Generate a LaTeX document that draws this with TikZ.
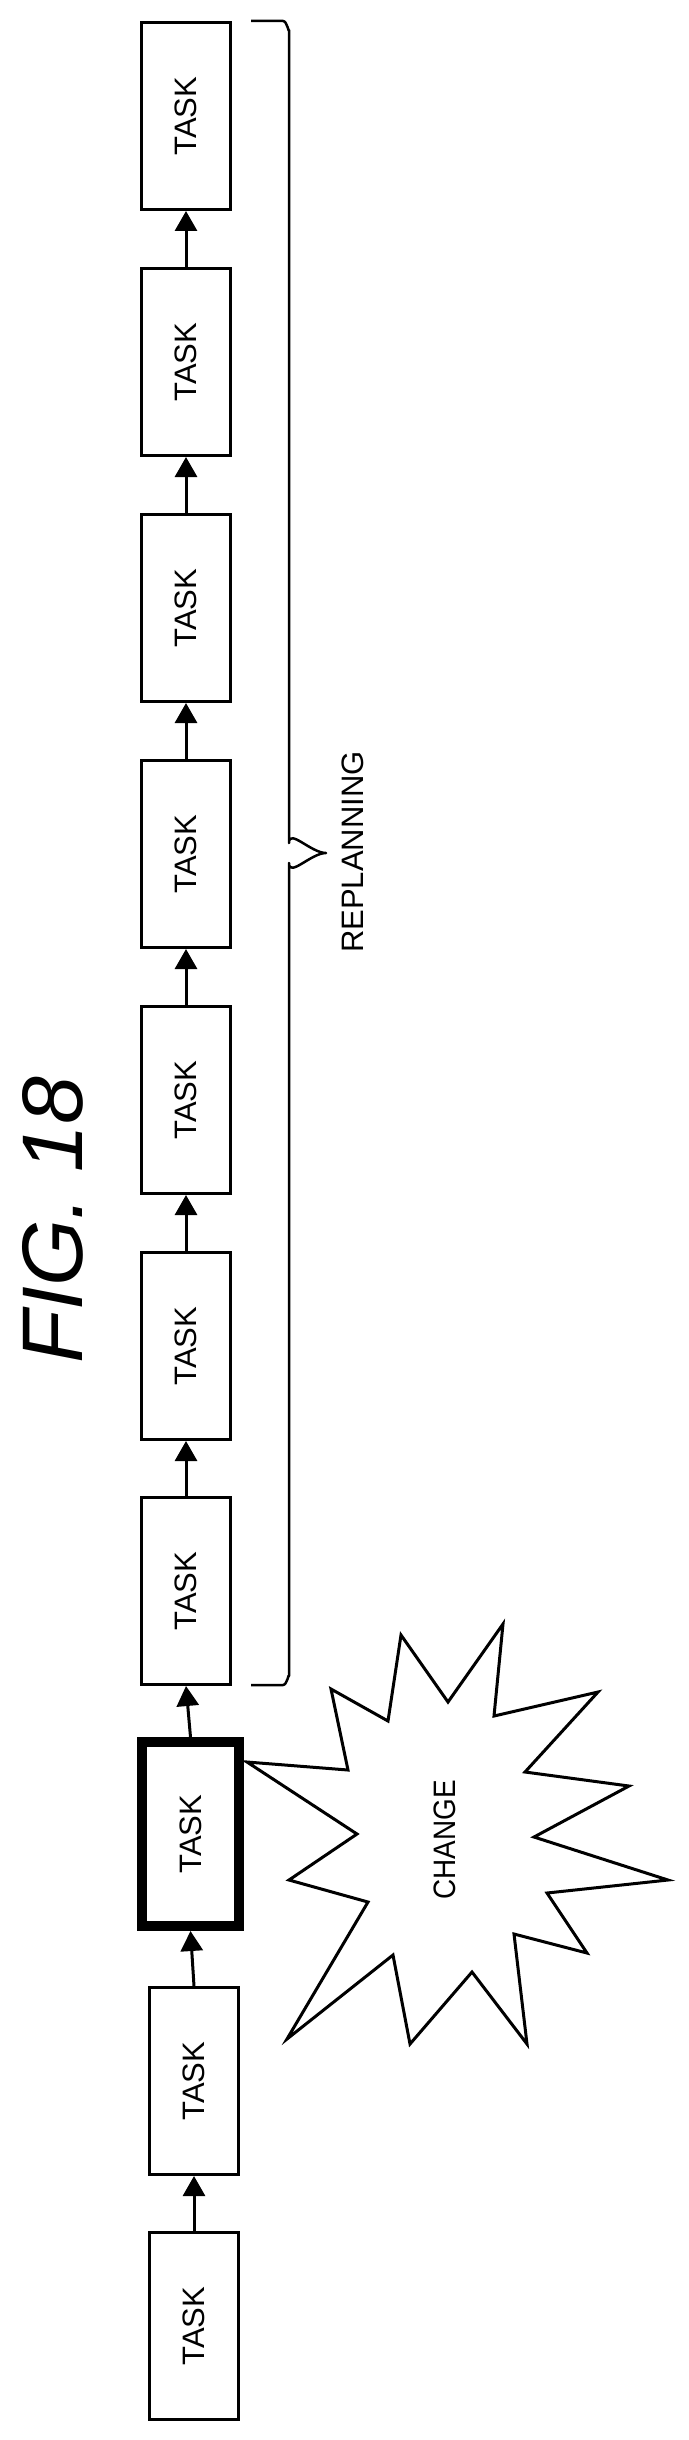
\documentclass[tikz,border=0pt]{standalone}
\usepackage{fontspec}
\setmainfont{Liberation Sans}
\usetikzlibrary{arrows.meta}
\begin{document}
\begin{tikzpicture}[x=1pt,y=-1pt,
  taskbox/.style={draw=black,line width=3pt,minimum width=89pt,minimum height=187pt,inner sep=0pt,font=\fontsize{31}{31}\selectfont},
  thickbox/.style={taskbox,line width=10pt,minimum width=97pt,minimum height=184pt},
  flow/.style={line width=3pt,-{Triangle[width=22pt,length=20pt]}}]
\useasboundingbox (0,0) rectangle (688,2440);
\foreach \i/\y/\x in {1/116/186,2/362/186,3/608/186,4/854/186,5/1100/186,6/1346/186,7/1591/186} {
  \node[taskbox] (t\i) at (\x,\y) {\rotatebox{90}{TASK}};
}
\node[thickbox] (t8) at (190.5,1834) {\rotatebox{90}{TASK}};
\node[taskbox] (t9) at (194,2081) {\rotatebox{90}{TASK}};
\node[taskbox] (t10) at (194,2326) {\rotatebox{90}{TASK}};
\foreach \a/\b in {10/9,9/8,8/7,7/6,6/5,5/4,4/3,3/2,2/1} {
  \draw[flow] (t\a.north) -- (t\b.south);
}
% brace
\coordinate (bt) at (251,21);
\coordinate (bb) at (251,1685);
\coordinate (tip) at (326,853);
\draw[line width=2.5pt,line join=round] (bt) -- (283,21) to[out=0,in=-90] (289,30) -- (289,843) to[out=90,in=180] (tip) to[out=180,in=-90] (289,863) -- (289,1676) to[out=90,in=0] (283,1685) -- (bb);
\node[font=\fontsize{31}{31}\selectfont,rotate=90] (rp) at (353,852) {REPLANNING};
% title
\node[font=\fontsize{86}{86}\selectfont\itshape,rotate=90] (title) at (53,1220) {FIG. 18};
% star
\draw[line width=3pt,line join=miter,fill=white] (247,1762) -- (357,1834) -- (289,1880) -- (368,1902) -- (287,2039) -- (393,1955) -- (410,2044) -- (472,1972) -- (527,2044) -- (514,1934) -- (587,1953) -- (547,1893) -- (668,1880) -- (534,1837) -- (629,1786) -- (525,1772) -- (598,1692) -- (494,1716) -- (503,1624) -- (448,1702) -- (401,1635) -- (388,1721) -- (331,1689) -- (348,1770) -- cycle;
\node[font=\fontsize{31}{31}\selectfont,rotate=90,xscale=0.9] (chg) at (445,1840) {CHANGE};
\end{tikzpicture}
\end{document}
